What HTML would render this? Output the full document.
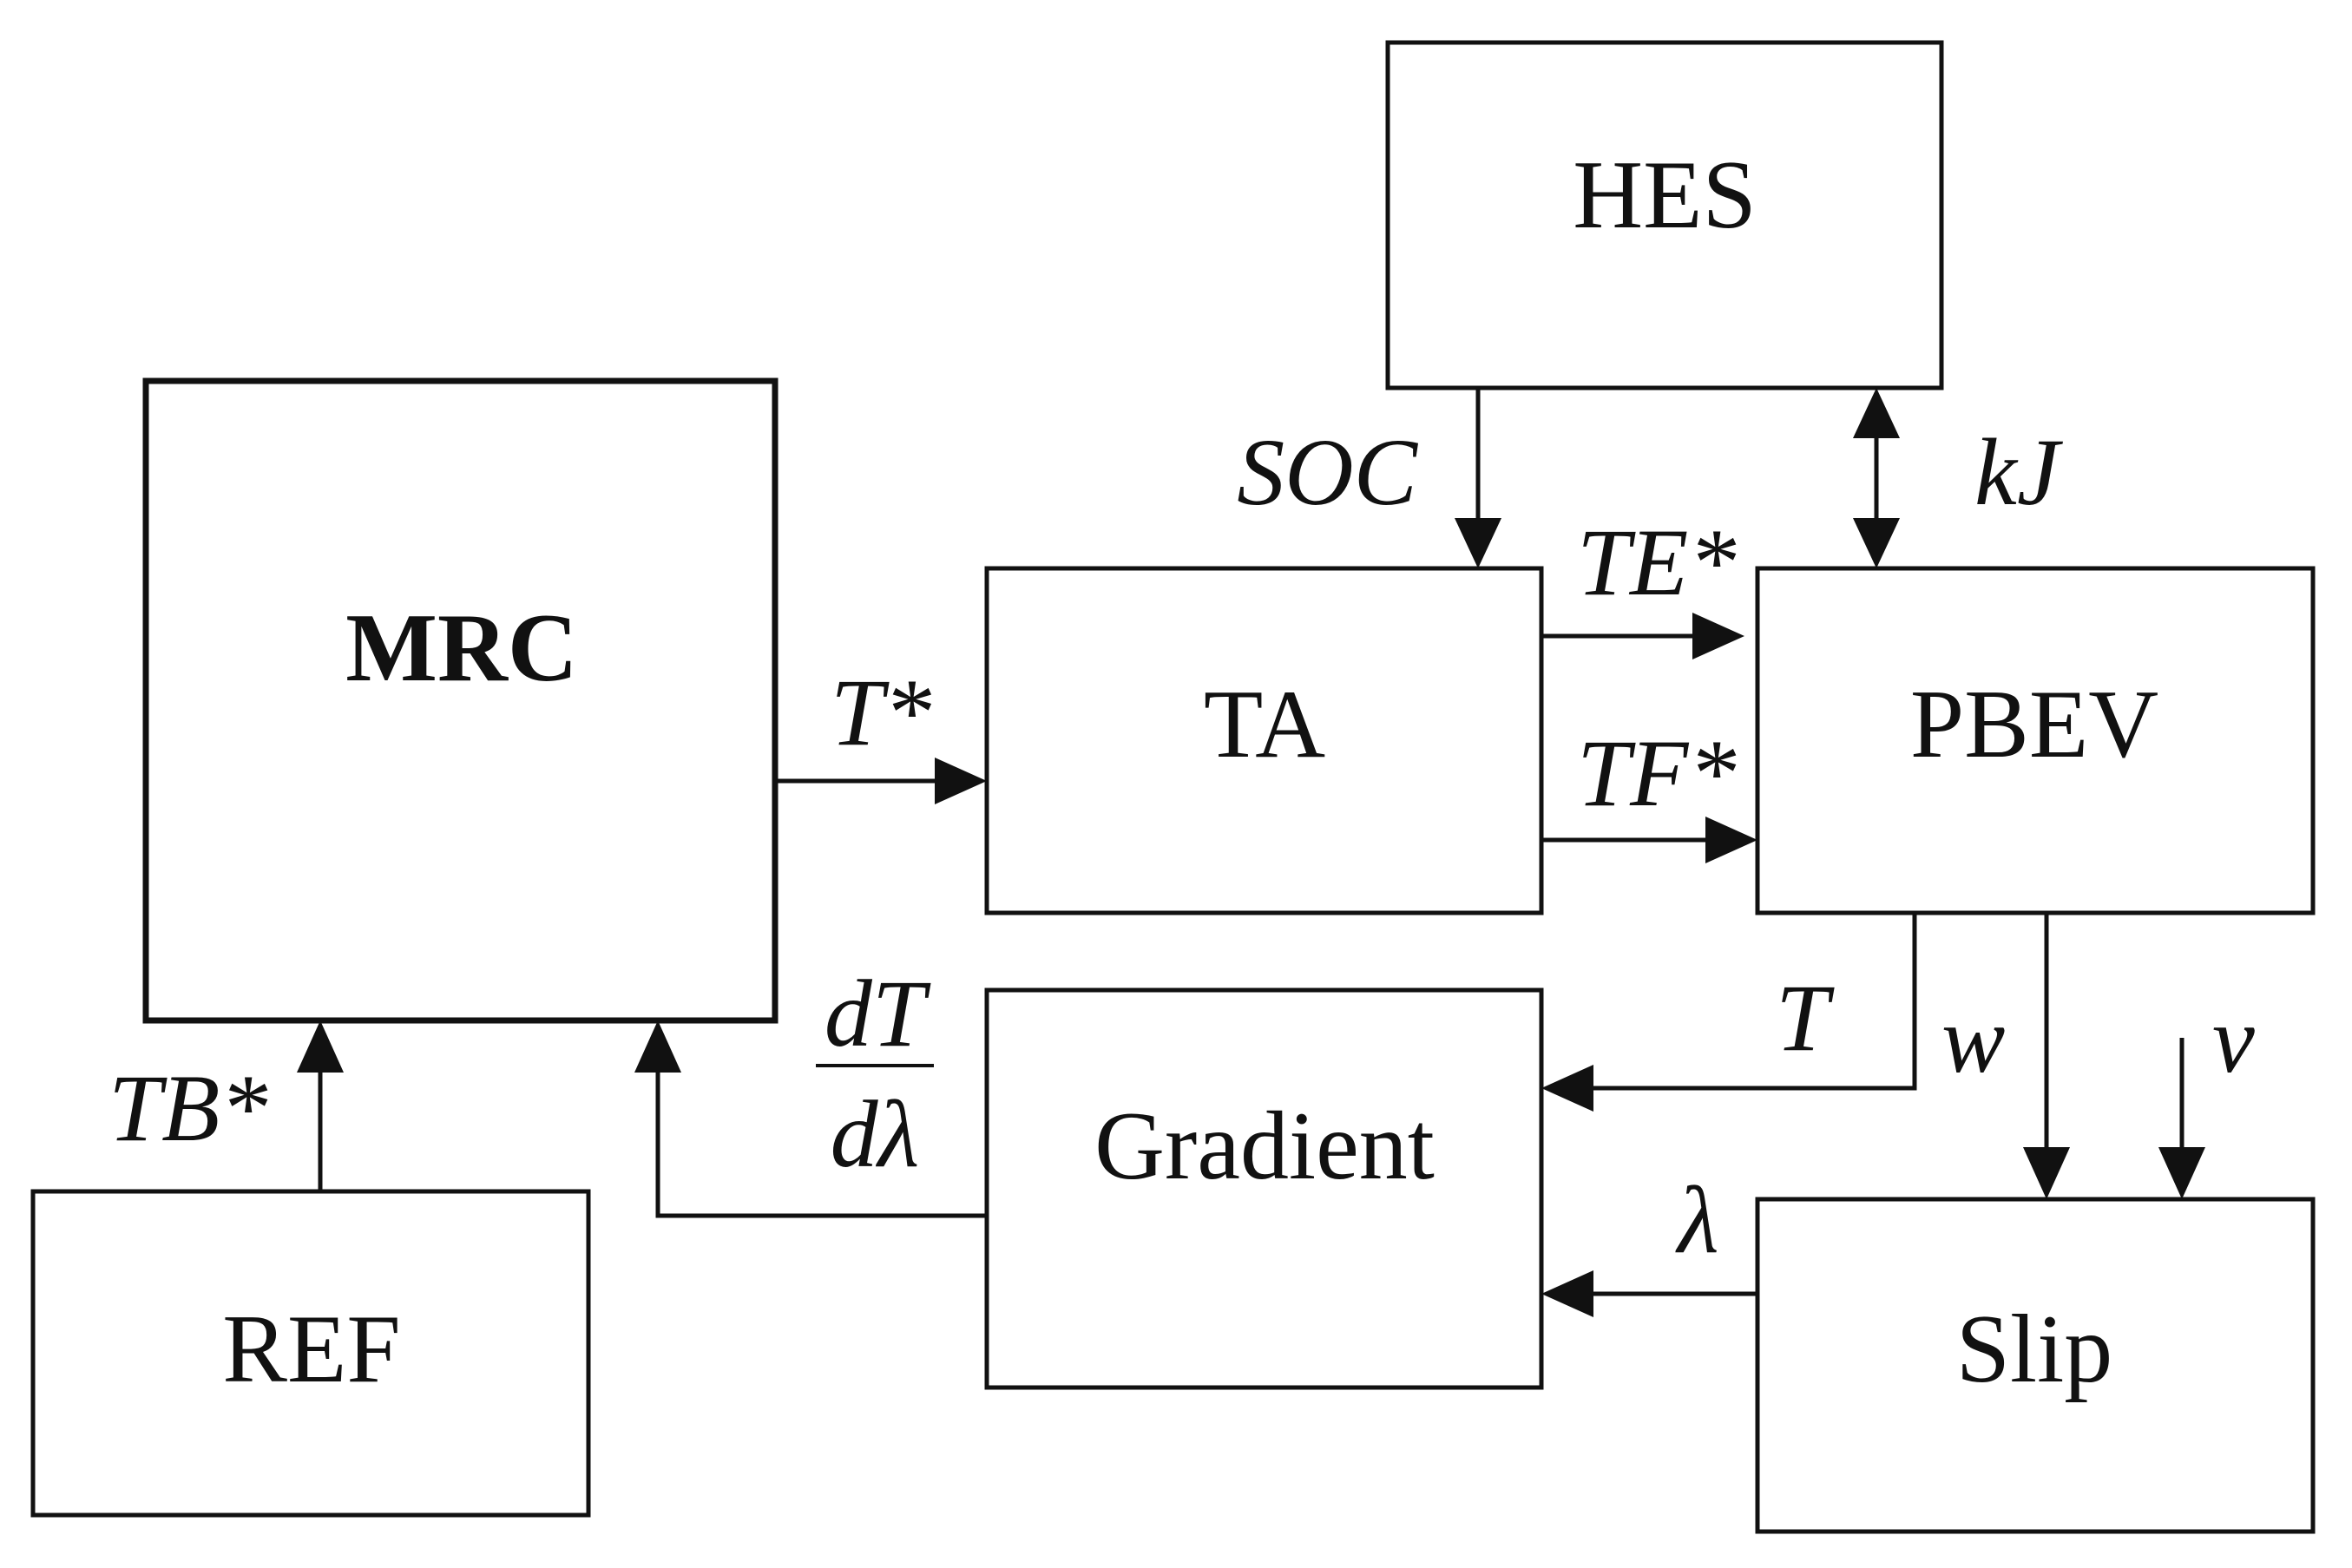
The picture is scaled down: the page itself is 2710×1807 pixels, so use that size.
<!DOCTYPE html>
<html><head><meta charset="utf-8"><style>
html,body{margin:0;padding:0;background:#fff;}
svg{display:block;}
text{font-family:"Liberation Serif",serif;fill:#111;}
.i{font-style:italic;}
</style></head><body>
<svg width="2710" height="1807" viewBox="0 0 2710 1807" xmlns="http://www.w3.org/2000/svg">
<defs>
<marker id="a" markerWidth="12" markerHeight="10" refX="12" refY="5" orient="auto" markerUnits="userSpaceOnUse" viewBox="0 0 12 10">
</marker>
</defs>
<g fill="none" stroke="#111" stroke-width="5">
<rect x="1599" y="49" width="638" height="398"/>
<rect x="168" y="439" width="725" height="737" stroke-width="7"/>
<rect x="1137" y="655" width="639" height="397"/>
<rect x="2025" y="655" width="640" height="397"/>
<rect x="1137" y="1141" width="639" height="458"/>
<rect x="38" y="1373" width="640" height="373"/>
<rect x="2025" y="1382" width="640" height="383"/>
<!-- lines -->
<line x1="1703" y1="447" x2="1703" y2="600"/>
<line x1="2162" y1="500" x2="2162" y2="600"/>
<line x1="1776" y1="733" x2="1955" y2="733"/>
<line x1="1776" y1="968" x2="1968" y2="968"/>
<line x1="893" y1="900" x2="1080" y2="900"/>
<polyline points="2206,1052 2206,1254 1835,1254"/>
<line x1="2358" y1="1052" x2="2358" y2="1325"/>
<line x1="2514" y1="1196" x2="2514" y2="1325"/>
<line x1="2025" y1="1491" x2="1835" y2="1491"/>
<polyline points="1137,1401 758,1401 758,1235"/>
<line x1="369" y1="1373" x2="369" y2="1235"/>
</g>
<g fill="#111">
<polygon points="1703,655 1676,597 1730,597"/>
<polygon points="2162,655 2135,597 2189,597"/>
<polygon points="2162,447 2135,505 2189,505"/>
<polygon points="2010,733 1950,706 1950,760"/>
<polygon points="2025,968 1965,941 1965,995"/>
<polygon points="1137,900 1077,873 1077,927"/>
<polygon points="1776,1254 1836,1227 1836,1281"/>
<polygon points="2358,1382 2331,1322 2385,1322"/>
<polygon points="2514,1382 2487,1322 2541,1322"/>
<polygon points="1776,1491 1836,1464 1836,1518"/>
<polygon points="758,1176 731,1236 785,1236"/>
<polygon points="369,1176 342,1236 396,1236"/>
</g>
<g font-size="112" text-anchor="middle">
<text x="1918" y="262">HES</text>
<text x="532" y="784" font-weight="bold">MRC</text>
<text x="1457" y="872">TA</text>
<text x="2344" y="872">PBEV</text>
<text x="1457" y="1358">Gradient</text>
<text x="359" y="1592">REF</text>
<text x="2344" y="1592">Slip</text>
</g>
<g font-size="110" class="i">
<text class="i" x="1633" y="581" text-anchor="end">SOC</text>
<text class="i" x="2275" y="581">kJ</text>
<text class="i" x="1817" y="685">TE*</text>
<text class="i" x="1817" y="928">TF*</text>
<text class="i" x="957" y="858">T*</text>
<text class="i" x="2046" y="1210">T</text>
<text class="i" x="2237" y="1235">w</text>
<text class="i" x="2549" y="1235">v</text>
<text class="i" x="1933" y="1443">λ</text>
<text class="i" x="125" y="1314">TB*</text>
<text class="i" x="1008" y="1205" text-anchor="middle">dT</text>
<text class="i" x="1008" y="1344" text-anchor="middle">dλ</text>
</g>
<line x1="940" y1="1228" x2="1076" y2="1228" stroke="#111" stroke-width="4"/>
</svg>
</body></html>
